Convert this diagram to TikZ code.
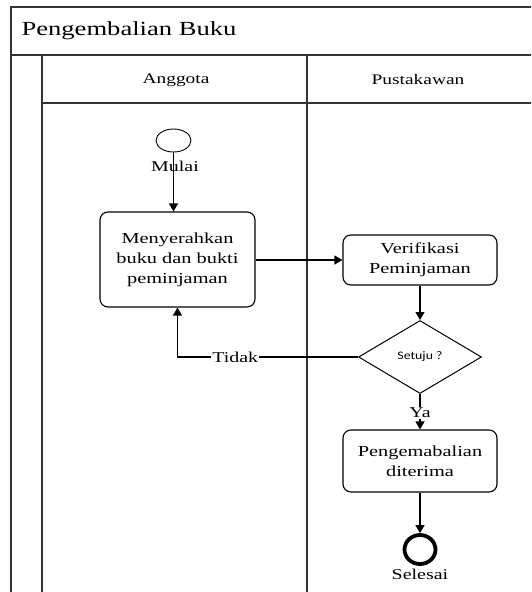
\documentclass[tikz,border=0pt]{standalone}
\usepackage{fontspec}
\setmainfont{Liberation Serif}[FakeStretch=1.33]
\newfontfamily\decfont{Carlito}[FakeStretch=1.2]
\usetikzlibrary{shapes.geometric,arrows.meta}

\begin{document}
\begin{tikzpicture}[x=1pt,y=-1pt,
  frameline/.style={draw=black!80,line width=1.6pt},
  activity/.style={draw,rounded corners=8pt,line width=1.1pt,align=center,
    font=\fontsize{15.3}{20}\selectfont,inner sep=0pt},
  decision/.style={draw,diamond,line width=1pt,inner sep=0pt,
    font=\decfont\fontsize{11.5}{13}\selectfont},
  flow/.style={line width=1.3pt,-{Triangle[length=8pt,width=9pt]}},
  lbl/.style={font=\fontsize{15}{18}\selectfont,inner sep=1pt},
  lanehead/.style={font=\fontsize{14.6}{17}\selectfont}
]
\useasboundingbox (0,0) rectangle (531,592);

% swimlane frame
\draw[frameline] (531,7) -- (11,7) -- (11,592);
\draw[frameline] (11,55) -- (531,55);
\draw[frameline] (42,55) -- (42,592);
\draw[frameline] (42,103) -- (531,103);
\draw[frameline] (307,55) -- (307,592);

\node[anchor=west,font=\fontsize{20}{24}\selectfont] (title) at (18,31) {Pengembalian Buku};
\node[lanehead] (laneA) at (176,80) {Anggota};
\node[lanehead] (laneP) at (418,80) {Pustakawan};

% activity nodes
\node[draw,ellipse,line width=0.9pt,minimum width=35pt,minimum height=23pt,inner sep=0pt] (start) at (173.5,140.5) {};
\node[lbl] (mulai) at (175,166) {Mulai};
\node[activity,minimum width=155pt,minimum height=95pt] (serah) at (177.5,259.5)
  {Menyerahkan\\buku dan bukti\\peminjaman};
\node[activity,minimum width=154pt,minimum height=50pt] (verif) at (420,260)
  {Verifikasi\\Peminjaman};
\node[decision,minimum width=123pt,minimum height=73pt] (setuju) at (420,357) {Setuju ?};
\node[activity,minimum width=154pt,minimum height=62pt] (terima) at (420,461)
  {Pengemabalian\\diterima};
\node[draw,ellipse,line width=3.8pt,minimum width=31pt,minimum height=29pt,inner sep=0pt] (end) at (420,549.5) {};
\node[lbl] (selesai) at (420,574) {Selesai};

% control flow
\draw[flow] (start.south) -- (start.south |- serah.north);
\draw[flow] (serah.east |- verif.west) -- (verif.west);
\draw[flow] (verif.south) -- (setuju.north);
\draw[flow] (setuju.west) -| (serah.south)
  node[lbl,fill=white,pos=0.34] (tidak) {Tidak};
\draw[flow] (setuju.south) -- (terima.north)
  node[lbl,fill=white,pos=0.5,yshift=-1pt] (ya) {Ya};
\draw[flow] (terima.south) -- (end.north);
\end{tikzpicture}
\end{document}
